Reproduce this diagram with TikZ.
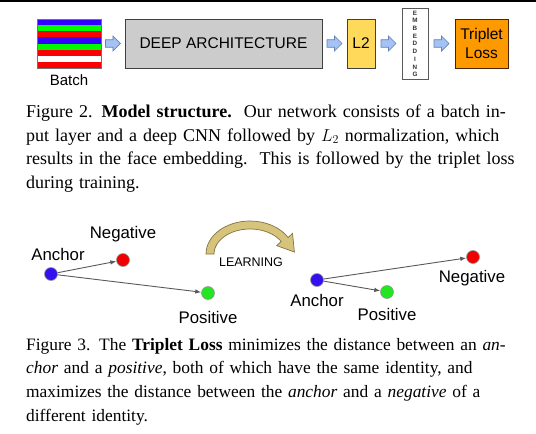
\documentclass[tikz,border=0pt]{standalone}
\usepackage{fontspec}
\setmainfont{Liberation Serif}
\newfontfamily\arialfont{Liberation Sans}
\usetikzlibrary{calc}
\usetikzlibrary{arrows.meta}

\definecolor{stripeblue}{RGB}{51,0,255}
\definecolor{stripegreen}{RGB}{0,250,0}
\definecolor{stripered}{RGB}{250,0,0}
\definecolor{boxgray}{RGB}{204,204,204}
\definecolor{ltwoyellow}{RGB}{255,217,90}
\definecolor{lossorange}{RGB}{255,153,0}
\definecolor{arrowblue}{RGB}{164,194,244}
\definecolor{arrowedge}{RGB}{100,130,180}
\definecolor{learnfill}{RGB}{214,196,125}
\definecolor{learnedge}{RGB}{130,115,65}
\definecolor{dotblue}{RGB}{51,17,238}
\definecolor{dotred}{RGB}{240,0,0}
\definecolor{dotgreen}{RGB}{34,230,34}

\tikzset{
  box/.style={draw=black!75, line width=0.8pt, inner sep=0pt, align=center,
    font=\arialfont\fontsize{15.5}{19}\selectfont},
  blockarrow/.style={draw=arrowedge, fill=arrowblue, line width=0.7pt, line join=miter},
  dot/.style={circle, draw=black!40, line width=0.6pt, minimum size=13pt, inner sep=0pt},
  lbl/.style={font=\arialfont\fontsize{16.8}{19}\selectfont, inner sep=0pt},
  link/.style={draw=black!65, line width=0.9pt, -{Latex[length=6pt,width=4.5pt]}},
  captext/.style={anchor=north west, inner sep=0pt, align=left},
}

\begin{document}
\begin{tikzpicture}[x=1pt, y=-1pt]
    % Page frame
    \useasboundingbox (0,0) rectangle (536,434);
    \fill[white] (0,0) rectangle (536,434);
    \draw[line width=1.5pt] (0,0.75) -- (536,0.75);

    % Draw the batch
    \foreach \c [count=\i from 0] in {stripeblue,stripegreen,stripered,stripeblue,stripegreen,stripered,white,stripered}
        \fill[\c] (37,{19+\i*6.125}) rectangle (101,{19+(\i+1)*6.125});
    \node[draw=black!55, line width=0.7pt, minimum width=64pt, minimum height=49pt, inner sep=0pt] (batch) at (69,43.5) {};
    \node[font=\arialfont\fontsize{5}{5}\selectfont, text=black!60, inner sep=0pt] (dots) at (69,51) {...};
    \node[font=\arialfont\fontsize{15}{18}\selectfont, inner sep=0pt] (batchlabel) at (69,80) {Batch};

    % Draw the network boxes
    \node[box, fill=boxgray, minimum width=197pt, minimum height=49pt] (deep) at (223.5,43.5) {DEEP ARCHITECTURE};
    \node[box, fill=ltwoyellow, minimum width=28pt, minimum height=49pt] (ltwo) at (361,43.5) {L2};
    \node[box, draw=black!65, fill=white, minimum width=26pt, minimum height=71pt] (emb) at (415,43.5) {};
    \foreach \l [count=\i from 0] in {E,M,B,E,D,D,I,N,G}
        \node[font=\arialfont\bfseries\fontsize{6.3}{7}\selectfont, text=black!80, inner sep=0pt] at (415,{13+\i*7.7}) {\l};
    \node[box, fill=lossorange, draw=black!70!orange, minimum width=53pt, minimum height=49pt] (loss) at (481.5,43.5) {Triplet\\Loss};

    % Draw block arrows between the boxes
    \foreach \a/\b in {batch/deep, deep/ltwo, ltwo/emb, emb/loss} {
        \coordinate (m) at ($(\a.east)!0.5!(\b.west)$);
        \draw[blockarrow] ($(m)+(-7.5,-3.8)$) -- ($(m)+(0,-3.8)$) -- ($(m)+(0,-7.5)$) -- ($(m)+(7.5,0)$)
            -- ($(m)+(0,7.5)$) -- ($(m)+(0,3.8)$) -- ($(m)+(-7.5,3.8)$) -- cycle;
    }

    % Draw the triplet before learning
    \node[dot, fill=dotblue] (a1) at (51,274) {};
    \node[dot, fill=dotred] (n1) at (123,260) {};
    \node[dot, fill=dotgreen] (p1) at (208,293) {};
    \node[lbl] (a1label) at (58,254) {Anchor};
    \node[lbl] (n1label) at (123,234) {Negative};
    \node[lbl] (p1label) at (208,317) {Positive};
    \draw[link] (a1) -- (n1);
    \draw[link] (a1) -- (p1);

    % Draw the learning arrow
    \draw[fill=learnfill, draw=learnedge, line width=0.7pt, line join=miter]
        (206,254) arc[start angle=180, end angle=330, x radius=44, y radius=33]
        -- (292.5,233.4) -- (294.4,252) -- (276.7,245.6) -- (281.2,241.5)
        arc[start angle=330, end angle=180, x radius=36, y radius=25] -- cycle;
    \node[font=\arialfont\fontsize{12.5}{15}\selectfont, inner sep=0pt] (learn) at (251,262) {LEARNING};

    % Draw the triplet after learning
    \node[dot, fill=dotblue] (a2) at (317,280) {};
    \node[dot, fill=dotgreen] (p2) at (387,292) {};
    \node[dot, fill=dotred] (n2) at (473,257) {};
    \node[lbl] (a2label) at (317,300) {Anchor};
    \node[lbl] (p2label) at (387,314) {Positive};
    \node[lbl] (n2label) at (472,278) {Negative};
    \draw[link] (a2) -- (n2);
    \draw[link] (a2) -- (p2);

    % Captions
    \node[captext, text width=483pt, font=\fontsize{18}{23.7}\selectfont] (cap2) at (26,104.5) {%
        \makebox[483pt][s]{Figure 2. \textbf{Model structure.}\ \ Our network consists of a batch in-}\\
        \makebox[483pt][s]{put layer and a deep CNN followed by $L_2$ normalization, which}\\
        \makebox[483pt][s]{results in the face embedding.\ \ This is followed by the triplet loss}\\
        during training.};
    \node[captext, text width=473pt, font=\fontsize{17.4}{23.7}\selectfont] (cap3) at (26,338) {%
        \makebox[473pt][s]{Figure 3. The \textbf{Triplet Loss} minimizes the distance between an \textit{an-}}\\
        \makebox[473pt][s]{\textit{chor} and a \textit{positive}, both of which have the same identity, and}\\
        \makebox[473pt][s]{maximizes the distance between the \textit{anchor} and a \textit{negative} of a}\\
        different identity.};
\end{tikzpicture}
\end{document}
